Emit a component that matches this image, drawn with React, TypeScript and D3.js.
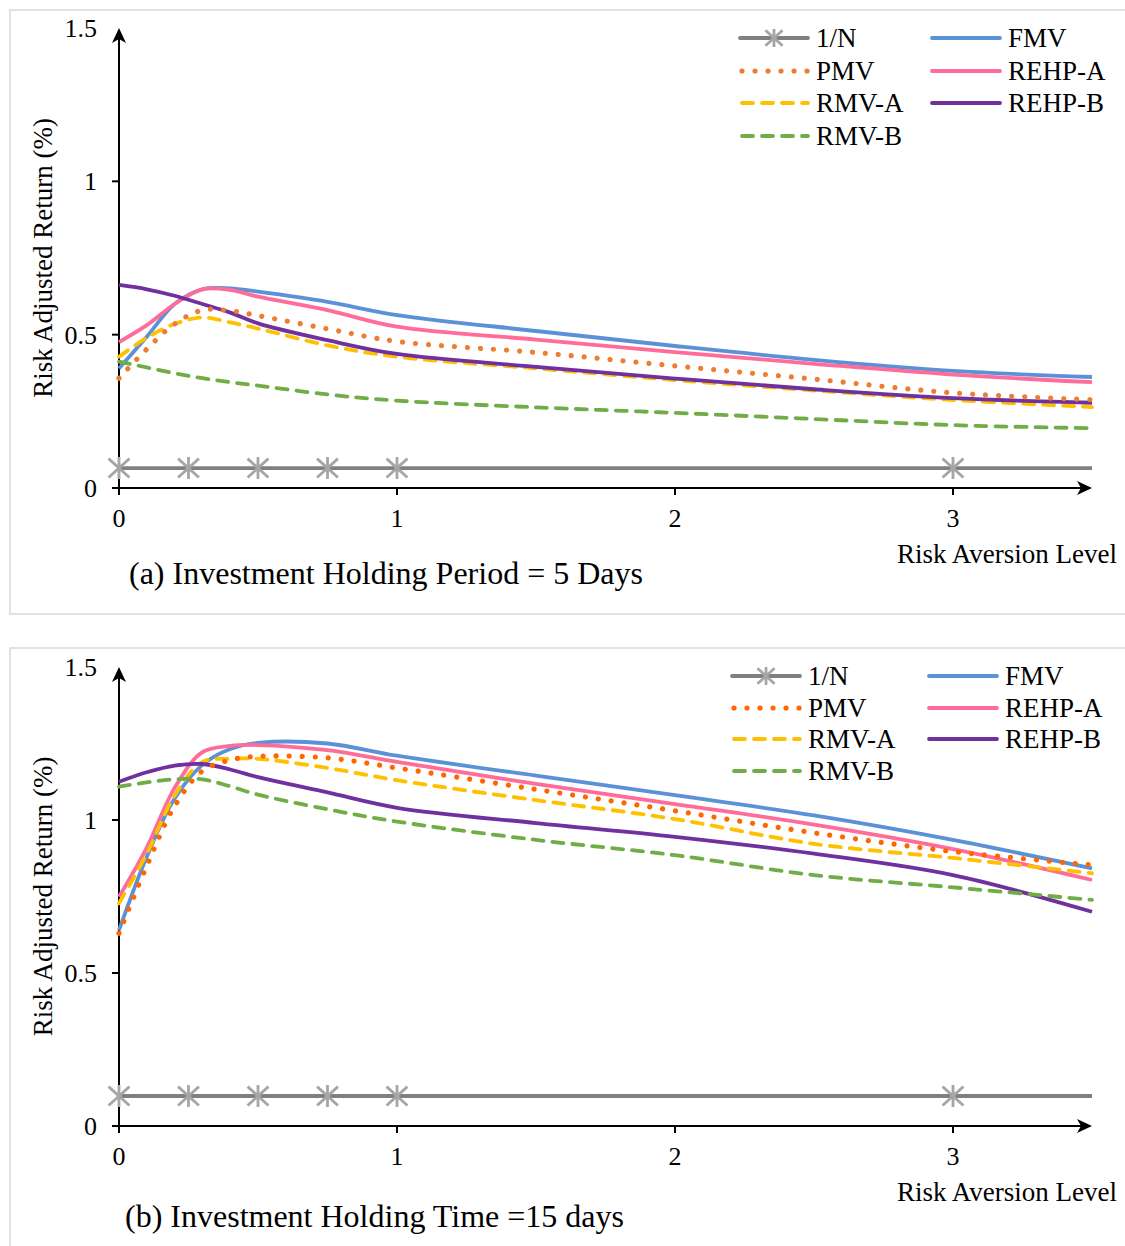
import React from 'react';
import * as d3 from 'd3';

// ---------- data ----------
const xGrid = [0, 0.1, 0.2, 0.3, 0.4, 0.5, 0.75, 1, 1.5, 2, 2.5, 3, 3.5];
const starX = [0, 0.25, 0.5, 0.75, 1, 3];
const equalLineX = [0, 3.5];
const yTicks = [0, 0.5, 1, 1.5];
const xTicks = [0, 1, 2, 3];

// Panel (a) - 5 days
const a_equal = 0.065;
const a_FMV = [0.39, 0.493, 0.6, 0.648, 0.651, 0.64, 0.607, 0.564, 0.512, 0.463, 0.418, 0.382, 0.362];
const a_PMV = [0.358, 0.453, 0.535, 0.58, 0.578, 0.562, 0.519, 0.478, 0.442, 0.398, 0.355, 0.31, 0.288];
const a_REHPA = [0.476, 0.531, 0.6, 0.648, 0.646, 0.624, 0.58, 0.526, 0.484, 0.443, 0.405, 0.37, 0.345];
const a_RMVA = [0.428, 0.49, 0.535, 0.556, 0.54, 0.52, 0.465, 0.428, 0.39, 0.352, 0.318, 0.287, 0.264];
const a_REHPB = [0.662, 0.648, 0.627, 0.6, 0.572, 0.537, 0.482, 0.437, 0.395, 0.357, 0.322, 0.293, 0.278];
const a_RMVB = [0.412, 0.393, 0.374, 0.358, 0.345, 0.334, 0.305, 0.285, 0.263, 0.245, 0.225, 0.205, 0.195];

// Panel (b) - 15 days
const b_equal = 0.098;
const b_FMV = [0.64, 0.88, 1.07, 1.18, 1.232, 1.252, 1.25, 1.21, 1.145, 1.081, 1.015, 0.935, 0.842];
const b_PMV = [0.63, 0.85, 1.045, 1.16, 1.196, 1.208, 1.203, 1.17, 1.1, 1.03, 0.958, 0.897, 0.853];
const b_REHPA = [0.749, 0.91, 1.105, 1.222, 1.242, 1.245, 1.228, 1.19, 1.118, 1.052, 0.985, 0.905, 0.804];
const b_RMVA = [0.728, 0.89, 1.08, 1.19, 1.2, 1.2, 1.17, 1.13, 1.065, 1.003, 0.922, 0.876, 0.826];
const b_REHPB = [1.125, 1.156, 1.178, 1.183, 1.165, 1.14, 1.09, 1.04, 0.99, 0.945, 0.89, 0.82, 0.7];
const b_RMVB = [1.109, 1.123, 1.133, 1.133, 1.11, 1.083, 1.035, 0.995, 0.935, 0.885, 0.82, 0.78, 0.739];

const seriesNames = ['1/N', 'PMV', 'RMV-A', 'RMV-B', 'FMV', 'REHP-A', 'REHP-B'];

// ---------- styles ----------
const FONT = '"Liberation Serif", "Times New Roman", serif';
type Style = { color: string; dash?: string; width: number; cap?: string };
const styleA: Record<string, Style> = {
  '1/N': { color: '#808080', width: 3.8 },
  FMV: { color: '#5b91d6', width: 3.8 },
  PMV: { color: '#ed7d31', width: 5.2, dash: '0.01 13', cap: 'round' },
  'REHP-A': { color: '#ff6c9a', width: 3.8 },
  'RMV-A': { color: '#ffc000', width: 3.8, dash: '11 9', cap: 'round' },
  'REHP-B': { color: '#7030a0', width: 3.8 },
  'RMV-B': { color: '#70ad47', width: 3.8, dash: '11 9', cap: 'round' },
};
const styleB: Record<string, Style> = { ...styleA, PMV: { ...styleA.PMV, color: '#ff6600' } };

const STAR = '#a6a6a6';

function starPath(cx: number, cy: number, r: number) {
  const d = r * 0.95;
  return `M${cx},${cy - r}L${cx},${cy + r}M${cx - d},${cy - d * 0.9}L${cx + d},${cy + d * 0.9}M${cx - d},${cy + d * 0.9}L${cx + d},${cy - d * 0.9}`;
}

type PanelProps = {
  top: number;
  bottom: number;
  equal: number;
  series: Record<string, number[]>;
  styles: Record<string, Style>;
  legendX: [number, number];
  legendRows: number[];
  caption: string;
  captionX: number;
  captionY: number;
};

function Panel(p: PanelProps) {
  const x = d3.scaleLinear().domain([0, 3.5]).range([119, 1092]);
  const y = d3.scaleLinear().domain([0, 1.5]).range([p.bottom, p.top]);
  const line = d3
    .line<[number, number]>()
    .x((d) => x(d[0]))
    .y((d) => y(d[1]))
    .curve(d3.curveCatmullRom.alpha(0.5));

  const drawOrder = ['FMV', 'REHP-A', 'RMV-A', 'REHP-B', 'RMV-B', 'PMV'];
  const legendLayout: [string, number, number][] = [
    ['1/N', 0, 0], ['PMV', 0, 1], ['RMV-A', 0, 2], ['RMV-B', 0, 3],
    ['FMV', 1, 0], ['REHP-A', 1, 1], ['REHP-B', 1, 2],
  ];
  const x0 = x(0);
  const yb = y(0);
  const ymid = (y(0) + y(1.5)) / 2;

  return (
    <g>
      {/* y axis */}
      <line x1={x0} x2={x0} y1={yb + 7} y2={y(1.5) + 8} stroke="#000" strokeWidth={2} />
      <path d={`M${x0},${y(1.5)}L${x0 - 7},${y(1.5) + 15}L${x0},${y(1.5) + 11}L${x0 + 7},${y(1.5) + 15}Z`} fill="#000" />
      {yTicks.slice(0, 3).map((t) => (
        <line key={'yt' + t} x1={x0 - 7} x2={x0} y1={y(t)} y2={y(t)} stroke="#000" strokeWidth={2} />
      ))}
      {yTicks.map((t) => (
        <text key={'yl' + t} x={97} y={y(t)} dy="0.35em" textAnchor="end" fontFamily={FONT} fontSize={26}>
          {t}
        </text>
      ))}
      {/* x axis */}
      <line x1={x0 - 7} x2={x(3.5) - 8} y1={yb} y2={yb} stroke="#000" strokeWidth={2} />
      <path d={`M${x(3.5)},${yb}L${x(3.5) - 15},${yb - 7}L${x(3.5) - 11},${yb}L${x(3.5) - 15},${yb + 7}Z`} fill="#000" />
      {xTicks.map((t) => (
        <line key={'xt' + t} x1={x(t)} x2={x(t)} y1={yb} y2={yb + 7} stroke="#000" strokeWidth={2} />
      ))}
      {xTicks.map((t) => (
        <text key={'xl' + t} x={x(t)} y={yb + 30} dy="0.35em" textAnchor="middle" fontFamily={FONT} fontSize={26}>
          {t}
        </text>
      ))}
      <text x={1117} y={yb + 66} dy="0.35em" textAnchor="end" fontFamily={FONT} fontSize={27}>
        Risk Aversion Level
      </text>
      <text
        transform={`translate(43,${ymid}) rotate(-90)`}
        dy="0.35em"
        textAnchor="middle"
        fontFamily={FONT}
        fontSize={27}
      >
        Risk Adjusted Return (%)
      </text>
      <text x={p.captionX} y={p.captionY} dy="0.35em" fontFamily={FONT} fontSize={32}>
        {p.caption}
      </text>

      {/* 1/N */}
      <path
        d={line(equalLineX.map((v) => [v, p.equal]))!}
        fill="none"
        stroke={p.styles['1/N'].color}
        strokeWidth={p.styles['1/N'].width}
      />
      {starX.map((v) => (
        <path key={'st' + v} d={starPath(x(v), y(p.equal), 11)} stroke={STAR} strokeWidth={2.8} fill="none" />
      ))}

      {drawOrder.map((name) => {
        const s = p.styles[name];
        const pts = xGrid.map((v, i) => [v, p.series[name][i]] as [number, number]);
        return (
          <path
            key={name}
            d={line(pts)!}
            fill="none"
            stroke={s.color}
            strokeWidth={s.width}
            strokeDasharray={s.dash}
            strokeLinecap={(s.cap as any) || 'butt'}
            strokeLinejoin="round"
          />
        );
      })}

      {/* legend */}
      {legendLayout.map(([name, col, row]) => {
        const s = p.styles[name];
        const lx = p.legendX[col];
        const ly = p.legendRows[row];
        return (
          <g key={'lg' + name}>
            <line
              x1={lx + (s.cap === 'round' ? 2 : 0)}
              x2={lx + 68}
              y1={ly}
              y2={ly}
              stroke={s.color}
              strokeWidth={s.width}
              strokeDasharray={s.dash}
              strokeLinecap={(s.cap as any) || 'round'}
            />
            {name === '1/N' && <path d={starPath(lx + 34, ly, 9)} stroke={STAR} strokeWidth={2.8} fill="none" />}
            <text x={lx + 76} y={ly} dy="0.35em" fontFamily={FONT} fontSize={27}>
              {name}
            </text>
          </g>
        );
      })}
    </g>
  );
}

export default function App() {
  const seriesA: Record<string, number[]> = {
    FMV: a_FMV, PMV: a_PMV, 'REHP-A': a_REHPA, 'RMV-A': a_RMVA, 'REHP-B': a_REHPB, 'RMV-B': a_RMVB,
  };
  const seriesB: Record<string, number[]> = {
    FMV: b_FMV, PMV: b_PMV, 'REHP-A': b_REHPA, 'RMV-A': b_RMVA, 'REHP-B': b_REHPB, 'RMV-B': b_RMVB,
  };
  void seriesNames;
  return (
    <div style={{ position: 'absolute', left: 0, top: 0 }}>
      <svg width={1125} height={1246} style={{ display: 'block', background: '#fff' }}>
        <rect x={10} y={10} width={1130} height={604} fill="#fff" stroke="#d9d9d9" strokeWidth={1.5} />
        <rect x={10} y={648} width={1130} height={620} fill="#fff" stroke="#d9d9d9" strokeWidth={1.5} />
        <Panel
          top={28}
          bottom={488}
          equal={a_equal}
          series={seriesA}
          styles={styleA}
          legendX={[740, 932]}
          legendRows={[38, 71, 103, 136]}
          caption="(a) Investment Holding Period = 5 Days"
          captionX={129}
          captionY={573}
        />
        <Panel
          top={667}
          bottom={1126}
          equal={b_equal}
          series={seriesB}
          styles={styleB}
          legendX={[732, 929]}
          legendRows={[676, 708, 739, 771]}
          caption="(b) Investment Holding Time =15 days"
          captionX={125}
          captionY={1216}
        />
      </svg>
    </div>
  );
}
